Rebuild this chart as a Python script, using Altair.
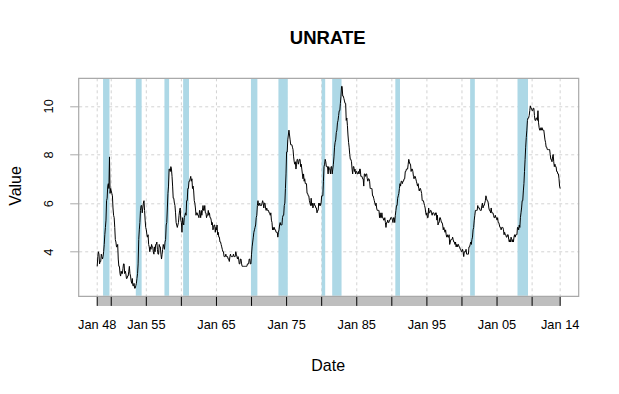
import altair as alt
import pandas as pd

# Monthly US unemployment rate (UNRATE), Jan 1948 .. Jan 2014
start_year = 1948
unrate = [
    3.4, 3.8, 4.0, 3.9, 3.5, 3.6, 3.6, 3.9, 3.8, 3.7, 3.8, 4.0,   # 1948
    4.3, 4.7, 5.0, 5.3, 6.1, 6.2, 6.7, 6.8, 6.6, 7.9, 6.4, 6.6,   # 1949
    6.5, 6.4, 6.3, 5.8, 5.5, 5.4, 5.0, 4.5, 4.4, 4.2, 4.2, 4.3,   # 1950
    3.7, 3.4, 3.4, 3.1, 3.0, 3.2, 3.1, 3.1, 3.3, 3.5, 3.5, 3.1,   # 1951
    3.2, 3.1, 2.9, 2.9, 3.0, 3.0, 3.2, 3.4, 3.1, 3.0, 2.8, 2.7,   # 1952
    2.9, 2.6, 2.6, 2.7, 2.5, 2.5, 2.6, 2.7, 2.9, 3.1, 3.5, 4.5,   # 1953
    4.9, 5.2, 5.7, 5.9, 5.9, 5.6, 5.8, 6.0, 6.1, 5.7, 5.3, 5.0,   # 1954
    4.9, 4.7, 4.6, 4.7, 4.3, 4.2, 4.0, 4.2, 4.1, 4.3, 4.2, 4.2,   # 1955
    4.0, 3.9, 4.2, 4.0, 4.3, 4.3, 4.4, 4.1, 3.9, 3.9, 4.3, 4.2,   # 1956
    4.2, 3.9, 3.7, 3.9, 4.1, 4.3, 4.2, 4.1, 4.4, 4.5, 5.1, 5.2,   # 1957
    5.8, 6.4, 6.7, 7.4, 7.4, 7.3, 7.5, 7.4, 7.1, 6.7, 6.2, 6.2,   # 1958
    6.0, 5.9, 5.6, 5.2, 5.1, 5.0, 5.1, 5.2, 5.5, 5.7, 5.8, 5.3,   # 1959
    5.2, 4.8, 5.4, 5.2, 5.1, 5.4, 5.5, 5.6, 5.5, 6.1, 6.1, 6.6,   # 1960
    6.6, 6.9, 6.9, 7.0, 7.1, 6.9, 7.0, 6.6, 6.7, 6.5, 6.1, 6.0,   # 1961
    5.8, 5.5, 5.6, 5.6, 5.5, 5.5, 5.4, 5.7, 5.6, 5.4, 5.7, 5.5,   # 1962
    5.7, 5.9, 5.7, 5.7, 5.9, 5.6, 5.6, 5.4, 5.5, 5.5, 5.7, 5.5,   # 1963
    5.6, 5.4, 5.4, 5.3, 5.1, 5.2, 4.9, 5.0, 5.1, 5.1, 4.8, 5.0,   # 1964
    4.9, 5.1, 4.7, 4.8, 4.6, 4.6, 4.4, 4.4, 4.3, 4.2, 4.1, 4.0,   # 1965
    4.0, 3.8, 3.8, 3.8, 3.9, 3.8, 3.8, 3.8, 3.7, 3.7, 3.6, 3.8,   # 1966
    3.9, 3.8, 3.8, 3.8, 3.8, 3.9, 3.8, 3.8, 3.8, 4.0, 3.9, 3.8,   # 1967
    3.7, 3.8, 3.7, 3.5, 3.5, 3.7, 3.7, 3.5, 3.4, 3.4, 3.4, 3.4,   # 1968
    3.4, 3.4, 3.4, 3.4, 3.4, 3.5, 3.5, 3.5, 3.7, 3.7, 3.5, 3.5,   # 1969
    3.9, 4.2, 4.4, 4.6, 4.8, 4.9, 5.0, 5.1, 5.4, 5.5, 5.9, 6.1,   # 1970
    5.9, 5.9, 6.0, 5.9, 5.9, 5.9, 6.0, 6.1, 6.0, 5.8, 6.0, 6.0,   # 1971
    5.8, 5.7, 5.8, 5.7, 5.7, 5.7, 5.6, 5.6, 5.5, 5.6, 5.3, 5.2,   # 1972
    4.9, 5.0, 4.9, 5.0, 4.9, 4.9, 4.8, 4.8, 4.8, 4.6, 4.8, 4.9,   # 1973
    5.1, 5.2, 5.1, 5.1, 5.1, 5.4, 5.5, 5.5, 5.9, 6.0, 6.6, 7.2,   # 1974
    8.1, 8.1, 8.6, 8.8, 9.0, 8.8, 8.6, 8.4, 8.4, 8.4, 8.3, 8.2,   # 1975
    7.9, 7.7, 7.6, 7.7, 7.4, 7.6, 7.8, 7.8, 7.6, 7.7, 7.8, 7.8,   # 1976
    7.5, 7.6, 7.4, 7.2, 7.0, 7.2, 6.9, 7.0, 6.8, 6.8, 6.8, 6.4,   # 1977
    6.4, 6.3, 6.3, 6.1, 6.0, 5.9, 6.2, 5.9, 6.0, 5.8, 5.9, 6.0,   # 1978
    5.9, 5.9, 5.8, 5.8, 5.6, 5.7, 5.7, 6.0, 5.9, 6.0, 5.9, 6.0,   # 1979
    6.3, 6.3, 6.3, 6.9, 7.5, 7.6, 7.8, 7.7, 7.5, 7.5, 7.5, 7.2,   # 1980
    7.5, 7.4, 7.4, 7.2, 7.5, 7.5, 7.2, 7.4, 7.6, 7.9, 8.3, 8.5,   # 1981
    8.6, 8.9, 9.0, 9.3, 9.4, 9.6, 9.8, 9.8, 10.1, 10.4, 10.8, 10.8,  # 1982
    10.4, 10.4, 10.3, 10.2, 10.1, 10.1, 9.4, 9.5, 9.2, 8.8, 8.5, 8.3,  # 1983
    8.0, 7.8, 7.8, 7.7, 7.4, 7.2, 7.5, 7.5, 7.3, 7.4, 7.2, 7.3,   # 1984
    7.3, 7.2, 7.2, 7.3, 7.2, 7.4, 7.4, 7.1, 7.1, 7.1, 7.0, 7.0,   # 1985
    6.7, 7.2, 7.2, 7.1, 7.2, 7.2, 7.0, 6.9, 7.0, 7.0, 6.9, 6.6,   # 1986
    6.6, 6.6, 6.6, 6.3, 6.3, 6.2, 6.1, 6.0, 5.9, 6.0, 5.8, 5.7,   # 1987
    5.7, 5.7, 5.7, 5.4, 5.6, 5.4, 5.4, 5.6, 5.4, 5.4, 5.3, 5.3,   # 1988
    5.4, 5.2, 5.0, 5.2, 5.2, 5.3, 5.2, 5.2, 5.3, 5.3, 5.4, 5.4,   # 1989
    5.4, 5.3, 5.2, 5.4, 5.4, 5.2, 5.5, 5.7, 5.9, 5.9, 6.2, 6.3,   # 1990
    6.4, 6.6, 6.8, 6.7, 6.9, 6.9, 6.8, 6.9, 6.9, 7.0, 7.0, 7.3,   # 1991
    7.3, 7.4, 7.4, 7.4, 7.6, 7.8, 7.7, 7.6, 7.6, 7.3, 7.4, 7.4,   # 1992
    7.3, 7.1, 7.0, 7.1, 7.1, 7.0, 6.9, 6.8, 6.7, 6.8, 6.6, 6.5,   # 1993
    6.6, 6.6, 6.5, 6.4, 6.1, 6.1, 6.1, 6.0, 5.9, 5.8, 5.6, 5.5,   # 1994
    5.6, 5.4, 5.4, 5.8, 5.6, 5.6, 5.7, 5.7, 5.6, 5.5, 5.6, 5.6,   # 1995
    5.6, 5.5, 5.5, 5.6, 5.6, 5.3, 5.5, 5.1, 5.2, 5.2, 5.4, 5.4,   # 1996
    5.3, 5.2, 5.2, 5.1, 4.9, 5.0, 4.9, 4.8, 4.9, 4.7, 4.6, 4.7,   # 1997
    4.6, 4.6, 4.7, 4.3, 4.4, 4.5, 4.5, 4.5, 4.6, 4.5, 4.4, 4.4,   # 1998
    4.3, 4.4, 4.2, 4.3, 4.2, 4.3, 4.3, 4.2, 4.2, 4.1, 4.1, 4.0,   # 1999
    4.0, 4.1, 4.0, 3.8, 4.0, 4.0, 4.0, 4.1, 3.9, 3.9, 3.9, 3.9,   # 2000
    4.2, 4.2, 4.3, 4.4, 4.3, 4.5, 4.6, 4.9, 5.0, 5.3, 5.5, 5.7,   # 2001
    5.7, 5.7, 5.7, 5.9, 5.8, 5.8, 5.8, 5.7, 5.7, 5.7, 5.9, 6.0,   # 2002
    5.8, 5.9, 5.9, 6.0, 6.1, 6.3, 6.2, 6.1, 6.1, 6.0, 5.8, 5.7,   # 2003
    5.7, 5.6, 5.8, 5.6, 5.6, 5.6, 5.5, 5.4, 5.4, 5.5, 5.4, 5.4,   # 2004
    5.3, 5.4, 5.2, 5.2, 5.1, 5.0, 5.0, 4.9, 5.0, 5.0, 5.0, 4.9,   # 2005
    4.7, 4.8, 4.7, 4.7, 4.6, 4.6, 4.7, 4.7, 4.5, 4.4, 4.5, 4.4,   # 2006
    4.6, 4.5, 4.4, 4.5, 4.4, 4.6, 4.7, 4.6, 4.7, 4.7, 4.7, 5.0,   # 2007
    5.0, 4.9, 5.1, 5.0, 5.4, 5.6, 5.8, 6.1, 6.1, 6.5, 6.8, 7.3,   # 2008
    7.8, 8.3, 8.7, 9.0, 9.4, 9.5, 9.5, 9.6, 9.8, 10.0, 9.9, 9.9,  # 2009
    9.8, 9.8, 9.9, 9.9, 9.6, 9.4, 9.4, 9.5, 9.5, 9.4, 9.8, 9.3,   # 2010
    9.1, 9.0, 9.0, 9.1, 9.0, 9.1, 9.0, 9.0, 9.0, 8.8, 8.6, 8.5,   # 2011
    8.3, 8.3, 8.2, 8.2, 8.2, 8.2, 8.2, 8.0, 7.8, 7.8, 7.7, 7.9,   # 2012
    8.0, 7.7, 7.5, 7.6, 7.5, 7.5, 7.3, 7.3, 7.2, 7.2, 7.0, 6.7,   # 2013
    6.6,                                                          # 2014
]

# NBER recessions (start, end) as year-month
rec_start = ["1948-11", "1953-07", "1957-08", "1960-04", "1969-12", "1973-11",
             "1980-01", "1981-07", "1990-07", "2001-03", "2007-12"]
rec_end = ["1949-10", "1954-05", "1958-04", "1961-02", "1970-11", "1975-03",
           "1980-07", "1982-11", "1991-03", "2001-11", "2009-06"]

tick_years = [1948, 1950, 1955, 1960, 1965, 1970, 1975, 1980, 1985, 1990,
              1995, 2000, 2005, 2010, 2014]
label_years = [1948, 1955, 1965, 1975, 1985, 1995, 2005, 2014]
label_text = ["Jan 48", "Jan 55", "Jan 65", "Jan 75", "Jan 85", "Jan 95",
              "Jan 05", "Jan 14"]
y_ticks = [4, 6, 8, 10]


def ym(s):
    y, m = s.split("-")
    return int(y) + (int(m) - 1) / 12.0


df = pd.DataFrame({
    "x": [start_year + i / 12.0 for i in range(len(unrate))],
    "value": unrate,
})
rec = pd.DataFrame({"x": [ym(s) for s in rec_start], "x2": [ym(s) for s in rec_end]})
ticks = pd.DataFrame({"x": tick_years})
labels = pd.DataFrame({"x": label_years, "label": label_text})
bar = pd.DataFrame({"x": [df["x"].min()], "x2": [df["x"].max()]})
one = pd.DataFrame({"a": [0]})

x0, x1 = df["x"].min(), df["x"].max()
xr = x1 - x0
xdom = [x0 - 0.04 * xr, x1 + 0.04 * xr]
y0, y1 = min(unrate), max(unrate)
yr = y1 - y0
ydom = [y0 - 0.04 * yr, y1 + 0.04 * yr]

W, H = 500, 218
FONT = "Liberation Sans"
xs = alt.Scale(domain=xdom, nice=False, zero=False)
ys = alt.Scale(domain=ydom, nice=False, zero=False)

vgrid = alt.Chart(ticks).mark_rule(color="#D3D3D3", strokeDash=[3, 3], strokeWidth=1).encode(
    x=alt.X("x:Q", scale=xs, axis=None),
    y=alt.value(0), y2=alt.value(H),
)

bands = alt.Chart(rec).mark_rect(color="#ADD8E6", opacity=1).encode(
    x=alt.X("x:Q", scale=xs, axis=None), x2="x2:Q",
    y=alt.value(0.5), y2=alt.value(H - 0.5),
)

line = alt.Chart(df).mark_line(color="black", strokeWidth=1).encode(
    x=alt.X("x:Q", scale=xs, axis=None),
    y=alt.Y("value:Q", scale=ys, axis=alt.Axis(
        values=y_ticks, title=None, domain=False,
        grid=True, gridColor="#D3D3D3", gridDash=[3, 3], gridWidth=1,
        ticks=True, tickColor="#A9A9A9", tickSize=9, tickWidth=1,
        labelAngle=270, labelAlign="center", labelBaseline="bottom",
        labelPadding=14, labelFont=FONT, labelFontSize=12.8, labelColor="black",
    )),
)

box = alt.Chart(one).mark_rect(fillOpacity=0, stroke="#A9A9A9", strokeWidth=1.2).encode(
    x=alt.value(0), x2=alt.value(W), y=alt.value(0), y2=alt.value(H),
)

graybar = alt.Chart(bar).mark_rect(color="#BEBEBE").encode(
    x=alt.X("x:Q", scale=xs, axis=None), x2="x2:Q",
    y=alt.value(H + 0.6), y2=alt.value(H + 9.6),
)

xticks = alt.Chart(ticks).mark_rule(color="black", strokeWidth=1).encode(
    x=alt.X("x:Q", scale=xs, axis=None),
    y=alt.value(H + 0.6), y2=alt.value(H + 9.6),
)

xlabels = alt.Chart(labels).mark_text(
    font=FONT, fontSize=12.8, color="black", baseline="alphabetic", align="center"
).encode(
    x=alt.X("x:Q", scale=xs, axis=None),
    y=alt.value(H + 33), text="label:N",
)

title = alt.Chart(one).mark_text(
    text="UNRATE", font=FONT, fontSize=18.5, fontWeight="bold", color="black",
    baseline="alphabetic", align="center"
).encode(x=alt.value(W / 2 - 1), y=alt.value(-34))

ytitle = alt.Chart(one).mark_text(
    text="Value", font=FONT, fontSize=16, color="black", angle=270,
    baseline="alphabetic", align="center"
).encode(x=alt.value(-57.5), y=alt.value(107.7))

xtitle = alt.Chart(one).mark_text(
    text="Date", font=FONT, fontSize=16, color="black",
    baseline="alphabetic", align="center"
).encode(x=alt.value(W / 2 - 0.5), y=alt.value(H + 74.4))

chart = alt.layer(
    vgrid, bands, line, box, graybar, xticks, xlabels, title, ytitle, xtitle
).properties(
    width=W, height=H,
    autosize=alt.AutoSizeParams(type="none"),
    padding={"left": 70.7, "top": 70.3, "right": 30, "bottom": 90},
).configure_view(stroke=None)

chart.save("out.html", embed_options={"renderer": "svg", "actions": False})
